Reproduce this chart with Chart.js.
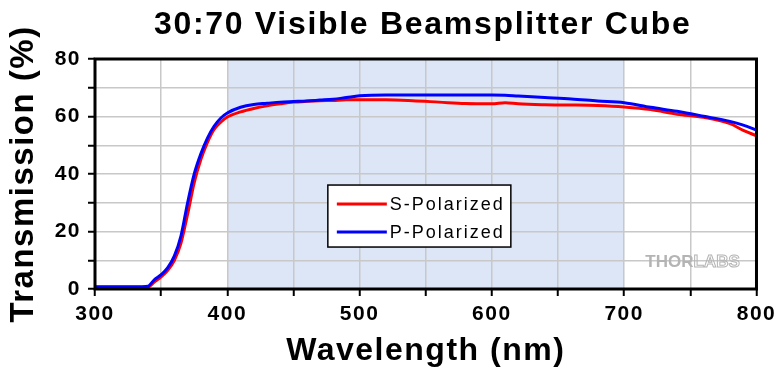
<!DOCTYPE html>
<html>
<head>
<meta charset="utf-8">
<script src="https://cdn.jsdelivr.net/npm/chart.js@4/dist/chart.umd.min.js"></script>
<style>
  html, body { margin: 0; padding: 0; background: #fff; }
  #wrap { width: 780px; height: 370px; }
</style>
</head>
<body>
<div id="wrap"><canvas id="chart" width="780" height="370"></canvas></div>
<script>
// Values
const wavelengths = [300, 310, 320, 330, 340, 345, 350, 355, 360, 365, 370, 375, 380, 385, 390, 395,
  400, 410, 420, 430, 440, 450, 460, 470, 480, 490, 500, 520, 540, 560, 580, 600, 610, 620,
  640, 660, 680, 700, 720, 740, 760, 780, 790, 800];
const sPolarized = [0.6, 0.6, 0.6, 0.6, 0.7, 2.5, 4.2, 6.5, 10, 16, 26, 37, 45, 51, 55.5, 58,
  59.8, 61.6, 62.8, 63.7, 64.4, 65.0, 65.3, 65.5, 65.6, 65.8, 65.8, 65.8, 65.5, 65.0, 64.5, 64.4, 64.8, 64.4,
  64.1, 64.0, 63.8, 63.3, 62.4, 60.8, 59.7, 57.5, 55.2, 53.3];
const pPolarized = [0.8, 0.8, 0.8, 0.8, 1.0, 3.3, 5.0, 7.4, 11.5, 18.5, 30, 40, 47, 52.5, 56.6, 59.4,
  61.2, 63.2, 64.2, 64.6, 65.0, 65.2, 65.4, 65.7, 66.0, 66.6, 67.2, 67.5, 67.5, 67.5, 67.5, 67.5, 67.4, 67.1,
  66.6, 66.1, 65.4, 64.8, 63.2, 61.8, 60.1, 58.3, 57.0, 55.3];
const seriesNames = ['S-Polarized', 'P-Polarized'];
const seriesColors = ['#ff0000', '#0000ff'];
const shadeBand = [400, 700];

const toPoints = vals => wavelengths.map((w, i) => ({ x: w, y: vals[i] }));

const FONT = '"Liberation Sans", Arial, sans-serif';

// light blue band behind the grid; also widens letter spacing for all text
const bandPlugin = {
  id: 'band',
  beforeDraw(chart) {
    const { ctx, chartArea: a, scales: { x } } = chart;
    ctx.letterSpacing = '1.5px';
    const x0 = x.getPixelForValue(shadeBand[0]);
    const x1 = x.getPixelForValue(shadeBand[1]);
    ctx.save();
    ctx.fillStyle = '#dde6f7';
    ctx.fillRect(x0, a.top, x1 - x0, a.bottom - a.top);
    ctx.restore();
  }
};

// frame, legend, title, watermark
const decorPlugin = {
  id: 'decor',
  afterDatasetsDraw(chart) {
    const { ctx, chartArea: a } = chart;
    const w = a.right - a.left, h = a.bottom - a.top;
    ctx.save();

    // watermark
    ctx.letterSpacing = '0px';
    ctx.font = 'bold 17px ' + FONT;
    ctx.textBaseline = 'alphabetic';
    ctx.fillStyle = '#b4b4b4';
    ctx.strokeStyle = '#b4b4b4';
    ctx.lineWidth = 1;
    const wx = a.left + w * 0.832, wy = a.top + h * 0.905;
    ctx.fillText('THOR', wx, wy);
    const tw = ctx.measureText('THOR').width;
    ctx.strokeText('LABS', wx + tw, wy);

    // legend
    const lx = a.left + w * 0.352, ly = a.top + h * 0.548;
    const lw = 183, lh = 62;
    ctx.fillStyle = '#fff';
    ctx.fillRect(lx, ly, lw, lh);
    ctx.strokeStyle = '#000';
    ctx.lineWidth = 1.5;
    ctx.strokeRect(lx, ly, lw, lh);
    ctx.letterSpacing = '2px';
    ctx.font = '18px ' + FONT;
    ctx.textBaseline = 'middle';
    seriesNames.forEach((name, i) => {
      const yy = ly + 19 + i * 28;
      ctx.strokeStyle = seriesColors[i];
      ctx.lineWidth = 3;
      ctx.beginPath();
      ctx.moveTo(lx + 9, yy);
      ctx.lineTo(lx + 59, yy);
      ctx.stroke();
      ctx.fillStyle = '#000';
      ctx.fillText(name, lx + 62, yy + 1);
    });

    // frame
    ctx.strokeStyle = '#000';
    ctx.lineWidth = 3;
    ctx.strokeRect(a.left, a.top, w, h);

    // title centred over the plot area
    ctx.letterSpacing = '1.7px';
    ctx.font = 'bold 32px ' + FONT;
    ctx.textAlign = 'center';
    ctx.textBaseline = 'alphabetic';
    ctx.fillStyle = '#000';
    ctx.fillText('30:70 Visible Beamsplitter Cube', (a.left + a.right) / 2 - 3, 34);
    ctx.restore();
  },
  afterDraw(chart) {
    chart.ctx.letterSpacing = '0px';
  }
};

new Chart(document.getElementById('chart'), {
  type: 'line',
  data: {
    datasets: [
      { label: seriesNames[0], data: toPoints(sPolarized), borderColor: seriesColors[0], order: 1 },
      { label: seriesNames[1], data: toPoints(pPolarized), borderColor: seriesColors[1], order: 0 }
    ]
  },
  options: {
    responsive: false,
    animation: false,
    layout: { padding: { top: 59, right: 23, left: 0, bottom: 0 } },
    elements: {
      line: { borderWidth: 3, cubicInterpolationMode: 'monotone', fill: false },
      point: { radius: 0 }
    },
    plugins: { legend: { display: false }, tooltip: { enabled: false }, title: { display: false } },
    scales: {
      x: {
        type: 'linear', min: 300, max: 800,
        afterFit: s => { s.height = 81; },
        border: { display: false },
        grid: { color: '#c8c8c8', lineWidth: 1.5, tickColor: '#000', tickLength: 7, tickWidth: 2 },
        ticks: {
          stepSize: 50, autoSkip: false, maxRotation: 0, padding: 6, color: '#000',
          font: { family: FONT, size: 21, weight: 'bold' },
          callback: v => (v % 100 === 0 ? v : '')
        },
        title: {
          display: true, text: 'Wavelength (nm)', color: '#000',
          font: { family: FONT, size: 32, weight: 'bold' }, padding: { top: 0, bottom: 0 }
        }
      },
      y: {
        min: 0, max: 80,
        afterFit: s => { s.width = 95; },
        border: { display: false },
        grid: { color: '#c8c8c8', lineWidth: 1.5, tickColor: '#000', tickLength: 7, tickWidth: 2 },
        ticks: {
          stepSize: 10, autoSkip: false, padding: 7, color: '#000',
          font: { family: FONT, size: 21, weight: 'bold' },
          callback: v => (v % 20 === 0 ? v : '')
        },
        title: {
          display: true, text: 'Transmission (%)', color: '#000',
          font: { family: FONT, size: 33, weight: 'bold' }, padding: { top: 4, bottom: 0 }
        }
      }
    }
  },
  plugins: [bandPlugin, decorPlugin]
});
</script>
</body>
</html>
